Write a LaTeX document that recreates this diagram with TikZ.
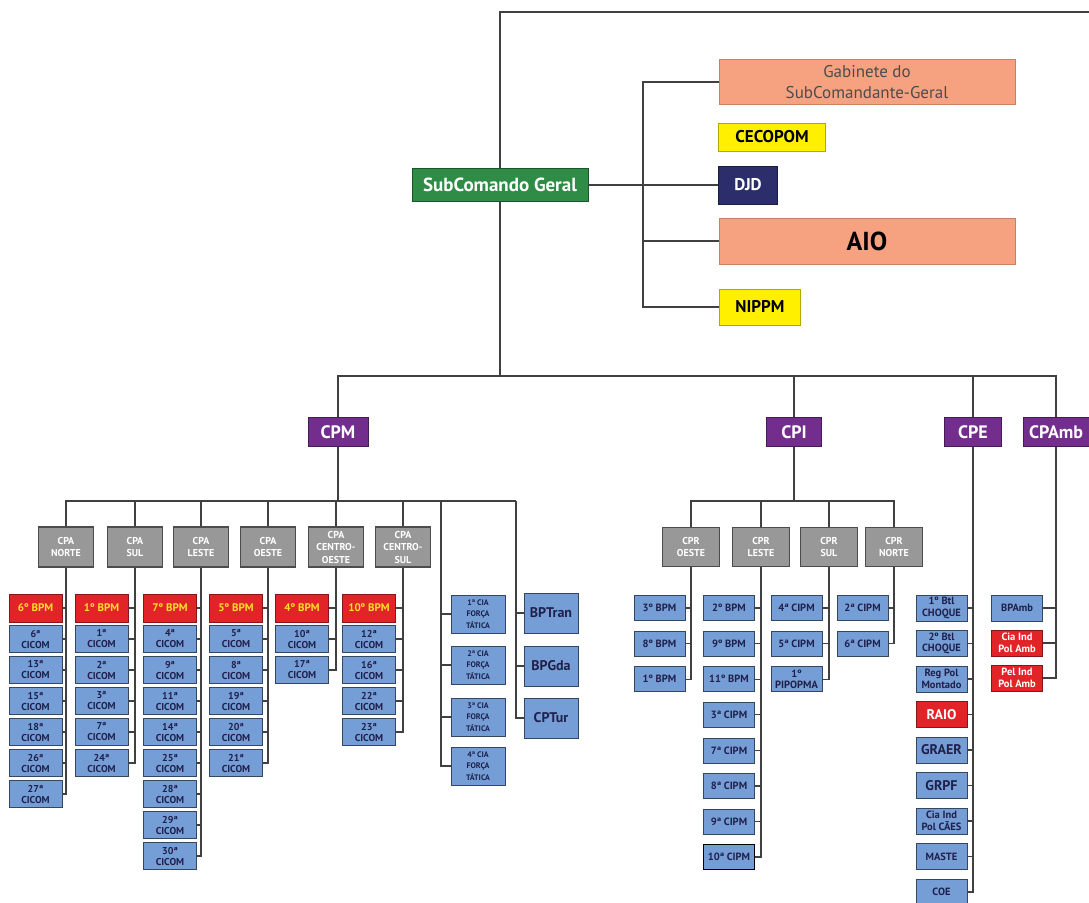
\documentclass[tikz,border=0pt]{standalone}
\usepackage{fontspec}
\setmainfont{PT Sans}
\usetikzlibrary{positioning}

\definecolor{verde}{RGB}{46,140,70}
\definecolor{salmao}{RGB}{246,162,128}
\definecolor{amarelo}{RGB}{255,240,0}
\definecolor{marinho}{RGB}{44,46,108}
\definecolor{roxo}{RGB}{115,45,140}
\definecolor{cinza}{RGB}{152,152,152}
\definecolor{azul}{RGB}{118,158,214}
\definecolor{vermelho}{RGB}{226,36,40}
\definecolor{ouro}{RGB}{255,222,40}

\begin{document}
\begin{tikzpicture}[x=1pt, y=-1pt,
  lig/.style={line width=1.3pt, draw=black!75},
  caixa/.style={draw, inner sep=0pt, align=center, line width=0.8pt},
  chefe/.style={caixa, fill=verde, draw=verde!60!black, text=white, minimum width=176, minimum height=33, font=\bfseries\fontsize{19}{21}\selectfont},
  gab/.style={caixa, fill=salmao, draw=salmao!80!black, minimum width=296, minimum height=45},
  amar/.style={caixa, fill=amarelo, draw=amarelo!70!black, font=\bfseries\fontsize{17}{19}\selectfont},
  cmd/.style={caixa, fill=roxo, draw=roxo!60!black, text=white, minimum height=29, font=\bfseries\fontsize{18}{20}\selectfont},
  cpa/.style={caixa, fill=cinza, draw=black!70, line width=1.5pt, text=white, minimum width=55, minimum height=40, font=\bfseries\fontsize{10}{12.5}\selectfont},
  bpm/.style={caixa, fill=vermelho, draw=vermelho!60!black, text=ouro, minimum width=53, minimum height=28, font=\bfseries\fontsize{11}{12}\selectfont},
  cicom/.style={caixa, fill=azul, draw=azul!45!black, text=marinho!70!black, minimum width=53, minimum height=27, font=\bfseries\fontsize{10}{11}\selectfont},
  ftat/.style={cicom, minimum width=54, minimum height=38, font=\bfseries\fontsize{8}{11.5}\selectfont},
  grande/.style={cicom, minimum width=54, minimum height=40, font=\bfseries\fontsize{14}{16}\selectfont},
  unid/.style={cicom, minimum width=51, minimum height=25, font=\bfseries\fontsize{10.5}{11.5}\selectfont},
  verm/.style={unid, fill=vermelho, draw=vermelho!60!black, text=white}
  ]

  \useasboundingbox (0,0) rectangle (1089,902);

  % Topo
  \node[chefe] (sub) at (500,185) {SubComando Geral};
  \node[gab, text=black!70, font=\fontsize{17}{21}\selectfont] (gab) at (867,82) {Gabinete do\\SubComandante-Geral};
  \node[amar, minimum width=107, minimum height=28] (cecopom) at (772,137) {CECOPOM};
  \node[caixa, fill=marinho, draw=marinho!60!black, text=white, minimum width=59, minimum height=38, font=\bfseries\fontsize{17}{19}\selectfont] (djd) at (748,185) {DJD};
  \node[gab, minimum height=46, font=\bfseries\fontsize{26}{28}\selectfont] (aio) at (867,241) {AIO};
  \node[amar, minimum width=81, minimum height=36] (nippm) at (760,307) {NIPPM};

  \coordinate (topo) at (1095,12);
  \coordinate (ramo) at (643,185);
  \draw[lig] (sub.north) |- (topo);
  \draw[lig] (sub.east) -- (djd.west);
  \draw[lig] (gab.west) -| (ramo |- nippm.west) -- (nippm.west);
  \draw[lig] (ramo |- aio.west) -- (aio.west);

  % Comandos
  \node[cmd, minimum width=60] (cpm) at (338,432) {CPM};
  \node[cmd, minimum width=55] (cpi) at (794,432) {CPI};
  \node[cmd, minimum width=57] (cpe) at (973,432) {CPE};
  \node[cmd, minimum width=66] (cpamb) at (1056,432) {CPAmb};

  \coordinate (barra) at (500,376);
  \draw[lig] (sub.south) -- (barra);
  \draw[lig] (cpm.north) |- (barra) -| (cpamb.north);
  \draw[lig] (barra -| cpi.north) -- (cpi.north);
  \draw[lig] (barra -| cpe.north) -- (cpe.north);

  % CPM
  \node[cpa] (cpaN) at (66,547) {CPA\\NORTE};
  \node[cpa] (cpaS) at (135,547) {CPA\\SUL};
  \node[cpa] (cpaL) at (201,547) {CPA\\LESTE};
  \node[cpa] (cpaO) at (268,547) {CPA\\OESTE};
  \node[cpa] (cpaCO) at (336,547) {CPA\\CENTRO-\\OESTE};
  \node[cpa] (cpaCS) at (403,547) {CPA\\CENTRO-\\SUL};

  \coordinate (barraM) at (338,501);
  \coordinate (ftL) at (441,501);
  \coordinate (btL) at (516,501);
  \draw[lig] (cpm.south) -- (barraM);
  \draw[lig] (cpaN.north) |- (btL);
  \foreach \n in {cpaS,cpaL,cpaO,cpaCO,cpaCS}
    \draw[lig] (\n.north) -- (\n.north |- barraM);

  \foreach \cx/\pai/\bpm/\lista in {35.5/cpaN/6º BPM/{6ª,13ª,15ª,18ª,26ª,27ª},
      101.5/cpaS/1º BPM/{1ª,2ª,3ª,7ª,24ª},
      170/cpaL/7º BPM/{4ª,9ª,11ª,14ª,25ª,28ª,29ª,30ª},
      236/cpaO/5º BPM/{5ª,8ª,19ª,20ª,21ª},
      302/cpaCO/4º BPM/{10ª,17ª},
      369/cpaCS/10º BPM/{12ª,16ª,22ª,23ª}} {
    \node[bpm] (\pai-0) at (\cx,608) {\bpm};
    \draw[lig] (\pai-0.east) -| (\pai.south);
    \foreach \t [count=\i] in \lista {
      \node[cicom] (\pai-\i) at (\cx,608+31*\i) {\t\\CICOM};
      \draw[lig] (\pai-\i.east) -| (\pai.south);
    }
  }

  % Forca Tatica e batalhoes especializados
  \node[ftat] (ft1) at (478,614) {1ª CIA\\FORÇA\\TÁTICA};
  \node[ftat] (ft2) at (478,665) {2ª CIA\\FORÇA\\TÁTICA};
  \node[ftat] (ft3) at (478,717) {3ª CIA\\FORÇA\\TÁTICA};
  \node[ftat] (ft4) at (478,766) {4ª CIA\\FORÇA\\TÁTICA};
  \draw[lig] (ftL) |- (ft4.west);
  \foreach \n in {ft1,ft2,ft3}
    \draw[lig] (ftL |- \n.west) -- (\n.west);

  \node[grande] (bptran) at (551,613) {BPTran};
  \node[grande] (bpgda) at (551,666) {BPGda};
  \node[grande] (cptur) at (551,718) {CPTur};
  \draw[lig] (btL) |- (cptur.west);
  \foreach \n in {bptran,bpgda}
    \draw[lig] (btL |- \n.west) -- (\n.west);

  % CPI
  \node[cpa, minimum width=57, minimum height=39] (cprO) at (691,547) {CPR\\OESTE};
  \node[cpa, minimum width=57, minimum height=39] (cprL) at (761,547) {CPR\\LESTE};
  \node[cpa, minimum width=57, minimum height=39] (cprS) at (829,547) {CPR\\SUL};
  \node[cpa, minimum width=57, minimum height=39] (cprN) at (894,547) {CPR\\NORTE};

  \coordinate (barraI) at (794,501);
  \draw[lig] (cpi.south) -- (barraI);
  \draw[lig] (cprO.north) |- (barraI) -| (cprN.north);
  \draw[lig] (cprL.north) -- (cprL.north |- barraI);
  \draw[lig] (cprS.north) -- (cprS.north |- barraI);

  \foreach \cx/\pai/\lista in {659.5/cprO/{3º BPM,8º BPM,1º BPM},
      729/cprL/{2º BPM,9º BPM,11º BPM,3ª CIPM,7ª CIPM,8ª CIPM,9ª CIPM},
      796.5/cprS/{4ª CIPM,5ª CIPM,{1º\\PIPOPMA}},
      862.5/cprN/{2ª CIPM,6ª CIPM}} {
    \foreach \t [count=\i] in \lista {
      \node[unid] (\pai-\i) at (\cx,572.4+35.6*\i) {\t};
      \draw[lig] (\pai-\i.east) -| (\pai.south);
    }
  }
  \node[unid, draw=black, line width=1.5pt] (cprL-8) at (729,857) {10ª CIPM};
  \draw[lig] (cprL-8.east) -| (cprL.south);

  % CPE
  \node[unid, minimum height=26] (cpe-1) at (941.5,608) {1º Btl\\CHOQUE};
  \node[unid, minimum height=26] (cpe-2) at (941.5,643.5) {2º Btl\\CHOQUE};
  \node[unid, minimum height=26] (cpe-3) at (941.5,679) {Reg Pol\\Montado};
  \node[verm, minimum height=26, font=\bfseries\fontsize{14}{15}\selectfont] (cpe-4) at (941.5,714.5) {RAIO};
  \node[unid, minimum height=26, font=\bfseries\fontsize{14}{15}\selectfont] (cpe-5) at (941.5,750) {GRAER};
  \node[unid, minimum height=26, font=\bfseries\fontsize{14}{15}\selectfont] (cpe-6) at (941.5,785.5) {GRPF};
  \node[unid, minimum height=26] (cpe-7) at (941.5,821) {Cia Ind\\Pol CÃES};
  \node[unid, minimum height=26] (cpe-8) at (941.5,856.5) {MASTE};
  \node[unid, minimum height=26] (cpe-9) at (941.5,892) {COE};
  \foreach \i in {1,...,9}
    \draw[lig] (cpe-\i.east) -| (cpe.south);

  % CPAmb
  \node[unid, minimum height=26] (amb-1) at (1017,608) {BPAmb};
  \node[verm, minimum height=26] (amb-2) at (1017,643) {Cia Ind\\Pol Amb};
  \node[verm, minimum height=26] (amb-3) at (1017,678) {Pel Ind\\Pol Amb};
  \foreach \i in {1,2,3}
    \draw[lig] (amb-\i.east) -| (cpamb.south);

\end{tikzpicture}
\end{document}
